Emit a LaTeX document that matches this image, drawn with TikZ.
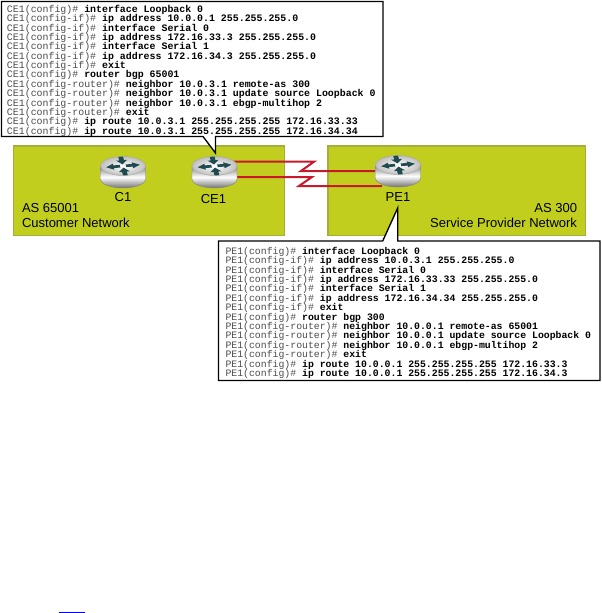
\documentclass[tikz,border=0pt]{standalone}
\usepackage{fontspec}
\setmainfont{Liberation Sans}
\newfontfamily\cfgfont{Liberation Mono}
\definecolor{asgreen}{HTML}{C1CE1E}
\definecolor{asedge}{HTML}{A3AE3C}
\definecolor{linkred}{HTML}{C8182C}
\definecolor{arrowdark}{HTML}{1F4A50}
\definecolor{ruleblue}{HTML}{0000FF}
\tikzset{
  x=0.75pt,y=-0.75pt,
  asbox/.style={fill=asgreen,draw=asedge,line width=1.1pt},
  callout/.style={fill=white,draw=black,line width=1pt,line join=miter},
  cfgline/.style={anchor=base west,inner sep=0pt,outer sep=0pt,font=\cfgfont\fontsize{#1pt}{8pt}\selectfont},
  netlabel/.style={inner sep=0pt,outer sep=0pt,font=\fontsize{9.76pt}{11pt}\selectfont,anchor=base},
  redlink/.style={draw=linkred,line width=1.5pt,line join=miter},
  rarrow/.style={fill=arrowdark,draw=none},
}
\newcommand{\cfg}[2]{\textcolor{black!70}{#1}\textbf{#2}}
% router: centre x, top-ellipse centre y
\newcommand{\routerat}[2]{%
  \begin{scope}[shift={(#1,#2)}]
    \shade[left color=black!50,right color=black!55,middle color=white,shading angle=0]
      (-22.5,0) -- (-22.5,13) arc[start angle=180,end angle=0,x radius=22.5,y radius=9] -- (22.5,0) -- cycle;
    \draw[black!50,line width=0.3pt] (-22.5,0) -- (-22.5,13) arc[start angle=180,end angle=0,x radius=22.5,y radius=9] -- (22.5,0);
    \shade[inner color=white,outer color=black!25] (0,0) ellipse[x radius=22.5,y radius=9.5];
    \draw[black!35,line width=0.3pt] (0,0) ellipse[x radius=22.5,y radius=9.5];
    \begin{scope}[yscale=0.55]
      \foreach \a/\s in {8/1,98/0,188/1,278/0}{
        \begin{scope}[rotate=\a]
          \ifnum\s=1
            \fill[rarrow] (3,-2.4) -- (9.5,-2.4) -- (9.5,-5.5) -- (17,0) -- (9.5,5.5) -- (9.5,2.4) -- (3,2.4) -- cycle;
          \else
            \fill[rarrow] (17,-2.4) -- (10.5,-2.4) -- (10.5,-5.5) -- (3,0) -- (10.5,5.5) -- (10.5,2.4) -- (17,2.4) -- cycle;
          \fi
        \end{scope}
      }
    \end{scope}
  \end{scope}%
}
\begin{document}
\begin{tikzpicture}
\useasboundingbox (0,0) rectangle (601,613);
\fill[white] (0,0) rectangle (601,613);

% autonomous system panels
\draw[asbox] (13.5,146) rectangle (284.5,235.3);
\draw[asbox] (328,146) rectangle (585.3,235.3);

% links
\coordinate (ce1up) at (232,161.7);
\coordinate (ce1lo) at (232,177);
\coordinate (pe1up) at (382,171);
\coordinate (pe1lo) at (382,186);
\draw[redlink] (ce1up) -- (314,161.7) -- (301,171) -- (pe1up);
\draw[redlink] (ce1lo) -- (312,177) -- (299,186) -- (pe1lo);

% routers
\routerat{123}{166}
\routerat{214.5}{166}
\routerat{398}{165}
\node[netlabel] (c1) at (123,201.7) {C1};
\node[netlabel] (ce1) at (213.5,203.3) {CE1};
\node[netlabel] (pe1) at (398,201.7) {PE1};

% panel labels
\node[netlabel,anchor=base west] (as1) at (22,212.3) {AS 65001};
\node[netlabel,anchor=base west] (cn) at (22,227) {Customer Network};
\node[netlabel,anchor=base east] (as2) at (577,212.3) {AS 300};
\node[netlabel,anchor=base east] (sp) at (577,227) {Service Provider Network};

% callout CE1
\draw[callout] (1.5,1.5) -- (383,1.5) -- (383,136.5) -- (215.5,136.5) -- (215.5,153) -- (203,136.5) -- (1.5,136.5) -- cycle;
\foreach \i/\p/\c in {
  0/{CE1(config)\#}/{interface Loopback 0},
  1/{CE1(config-if)\#}/{ip address 10.0.0.1 255.255.255.0},
  2/{CE1(config-if)\#}/{interface Serial 0},
  3/{CE1(config-if)\#}/{ip address 172.16.33.3 255.255.255.0},
  4/{CE1(config-if)\#}/{interface Serial 1},
  5/{CE1(config-if)\#}/{ip address 172.16.34.3 255.255.255.0},
  6/{CE1(config-if)\#}/{exit},
  7/{CE1(config)\#}/{router bgp 65001},
  8/{CE1(config-router)\#}/{neighbor 10.0.3.1 remote-as 300},
  9/{CE1(config-router)\#}/{neighbor 10.0.3.1 update source Loopback 0},
  10/{CE1(config-router)\#}/{neighbor 10.0.3.1 ebgp-multihop 2},
  11/{CE1(config-router)\#}/{exit},
  12/{CE1(config)\#}/{ip route 10.0.3.1 255.255.255.255 172.16.33.33},
  13/{CE1(config)\#}/{ip route 10.0.3.1 255.255.255.255 172.16.34.34}
}{
  \node[cfgline=7.43] (ca\i) at (7,12.3+9.38*\i) {\cfg{\p}{ \c}};
}

% callout PE1
\draw[callout] (218.5,241) -- (382.7,241) -- (397.7,208) -- (397.7,241) -- (600,241) -- (600,380.5) -- (218.5,380.5) -- cycle;
\foreach \i/\p/\c in {
  0/{PE1(config)\#}/{interface Loopback 0},
  1/{PE1(config-if)\#}/{ip address 10.0.3.1 255.255.255.0},
  2/{PE1(config-if)\#}/{interface Serial 0},
  3/{PE1(config-if)\#}/{ip address 172.16.33.33 255.255.255.0},
  4/{PE1(config-if)\#}/{interface Serial 1},
  5/{PE1(config-if)\#}/{ip address 172.16.34.34 255.255.255.0},
  6/{PE1(config-if)\#}/{exit},
  7/{PE1(config)\#}/{router bgp 300},
  8/{PE1(config-router)\#}/{neighbor 10.0.0.1 remote-as 65001},
  9/{PE1(config-router)\#}/{neighbor 10.0.0.1 update source Loopback 0},
  10/{PE1(config-router)\#}/{neighbor 10.0.0.1 ebgp-multihop 2},
  11/{PE1(config-router)\#}/{exit},
  12/{PE1(config)\#}/{ip route 10.0.0.1 255.255.255.255 172.16.33.3},
  13/{PE1(config)\#}/{ip route 10.0.0.1 255.255.255.255 172.16.34.3}
}{
  \node[cfgline=7.37] (cb\i) at (225.5,254.3+9.41*\i) {\cfg{\p}{ \c}};
}

% blue rule at the bottom
\fill[ruleblue] (59,611.5) rectangle (85,612.7);
\end{tikzpicture}
\end{document}
